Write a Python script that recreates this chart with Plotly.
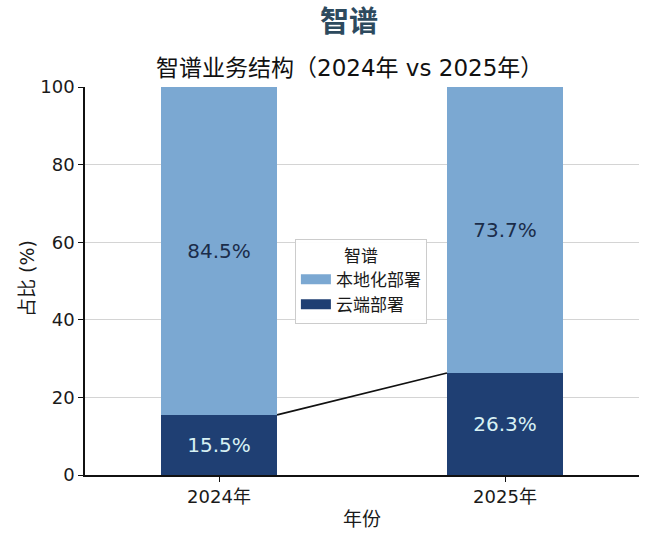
import plotly.graph_objects as go

years = ["2024年", "2025年"]
cloud = [15.5, 26.3]
local = [84.5, 73.7]
series_names = ["云端部署", "本地化部署"]
legend_title = "智谱"
title = "智谱"
subtitle = "智谱业务结构（2024年 vs 2025年）"
y_title = "占比 (%)"
x_title = "年份"
y_ticks = [0, 20, 40, 60, 80, 100]

FONT = "DejaVu Sans, Noto Sans CJK SC, sans-serif"
DARK = "#1f3f73"
LIGHT = "#7ba8d2"
BW = 0.406
xs = list(range(len(years)))

fig = go.Figure()
fig.add_trace(go.Bar(
    x=xs, y=cloud, name=series_names[0], marker_color=DARK, width=BW,
    marker_line_width=0, showlegend=False,
    text=[f"{v:.1f}%" for v in cloud], textposition="inside",
    insidetextanchor="middle", textangle=0, constraintext="none",
    textfont=dict(color="#d8f1f4", size=20, family=FONT),
))
fig.add_trace(go.Bar(
    x=xs, y=local, name=series_names[1], marker_color=LIGHT, width=BW,
    marker_line_width=0, showlegend=False,
    text=[f"{v:.1f}%" for v in local], textposition="inside",
    insidetextanchor="middle", textangle=0, constraintext="none",
    textfont=dict(color="#1b2d4a", size=20, family=FONT),
))
fig.add_trace(go.Scatter(
    x=[xs[0] + BW / 2, xs[1] - BW / 2], y=[cloud[0], cloud[1]],
    mode="lines", line=dict(color="#111111", width=1.6),
    showlegend=False, hoverinfo="skip",
))
# legend entries drawn as wide swatches
for nm, col in [(series_names[1], LIGHT), (series_names[0], DARK)]:
    fig.add_trace(go.Scatter(
        x=[None], y=[None], mode="lines", name=nm,
        line=dict(color=col, width=12), hoverinfo="skip",
    ))

H_PLOT = 536 - 87 - 61
W_PLOT = 660 - 85 - 21
TX = (349 - 85) / W_PLOT
fig.update_layout(
    width=660, height=536,
    margin=dict(l=85, r=21, t=87, b=61),
    barmode="stack",
    plot_bgcolor="white", paper_bgcolor="white",
    font=dict(family=FONT, color="#1a1a1a"),
    xaxis=dict(
        range=[-0.4685, 1.4685], tickvals=xs, ticktext=years,
        showline=True, linecolor="#111111", linewidth=1.5,
        ticks="outside", ticklen=5, tickcolor="#111111",
        tickfont=dict(size=18, family=FONT, color="#1a1a1a"),
        showgrid=False, zeroline=False, automargin=False,
        title=dict(text=x_title, font=dict(size=19, family=FONT, color="#1a1a1a"), standoff=6),
    ),
    yaxis=dict(
        range=[0, 100], tickvals=y_ticks,
        showline=True, linecolor="#111111", linewidth=1.5,
        ticks="outside", ticklen=5, tickcolor="#111111",
        tickfont=dict(size=18, family=FONT, color="#1a1a1a"),
        showgrid=True, gridcolor="#d4d4d4", gridwidth=1, zeroline=False,
        automargin=False,
    ),
    legend=dict(
        x=0.498, y=0.5, xanchor="center", yanchor="middle",
        traceorder="normal",
        bgcolor="rgba(255,255,255,0.95)", bordercolor="#cccccc", borderwidth=1,
        font=dict(size=17, family=FONT, color="#1a1a1a"),
        itemwidth=30,
        title=dict(text=legend_title, side="top center", font=dict(size=17, family=FONT, color="#1a1a1a")),
    ),
    annotations=[
        dict(text=f"<b>{title}</b>", xref="paper", yref="paper", x=TX,
             y=1 + (87 - 22) / H_PLOT, xanchor="center", yanchor="middle",
             showarrow=False, font=dict(size=29, family=FONT, color="#2d4a5e")),
        dict(text=subtitle, xref="paper", yref="paper", x=TX,
             y=1 + (87 - 68) / H_PLOT, xanchor="center", yanchor="middle",
             showarrow=False, font=dict(size=23, family=FONT, color="#111111")),
        dict(text=y_title, xref="paper", yref="paper", x=(27 - 85) / W_PLOT,
             y=(475 - 279) / H_PLOT, xanchor="center", yanchor="middle",
             textangle=-90, showarrow=False,
             font=dict(size=19, family=FONT, color="#1a1a1a")),
    ],
)

fig.write_html("out.html")
